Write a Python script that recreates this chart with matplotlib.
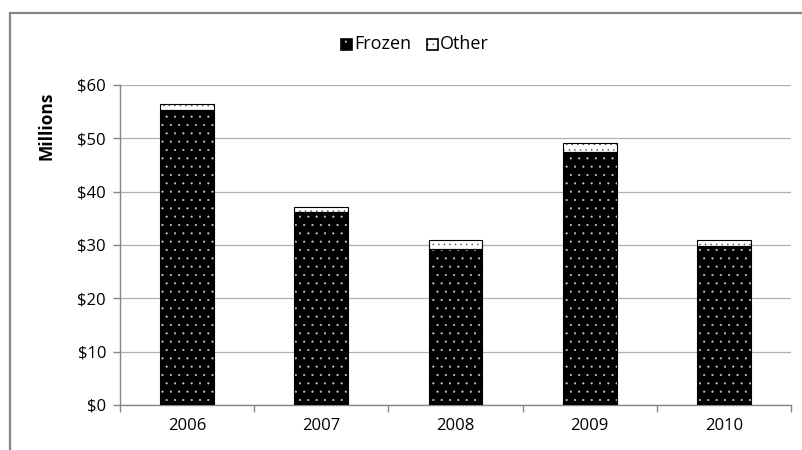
import numpy as np
import matplotlib
matplotlib.use("Agg")
import matplotlib.pyplot as plt
from matplotlib.patches import Rectangle
from matplotlib.ticker import FuncFormatter

plt.rcParams['font.family'] = ['Open Sans', 'DejaVu Sans']
plt.rcParams['hatch.linewidth'] = 0.3

years = ["2006", "2007", "2008", "2009", "2010"]
frozen = [55.3, 36.1, 29.2, 47.5, 29.9]
other = [1.1, 1.1, 1.7, 1.6, 1.0]

fig = plt.figure(figsize=(8.03, 4.5), dpi=100)
fig.patch.set_facecolor("white")

# outer chart border, only top and left sides are inside the canvas
fig.patches.append(Rectangle((10 / 803, -0.1), 1.2, 1 - 13 / 450 + 0.1,
                             transform=fig.transFigure, fill=False,
                             edgecolor="#868686", linewidth=1.6))

ax = fig.add_axes([120 / 803, 1 - 405 / 450, (791 - 120) / 803, (405 - 85) / 450])

x = np.arange(len(years))
w = 0.40
bottoms = np.array(frozen)

# frozen: black with white dots
ax.bar(x, frozen, width=w, color="black", edgecolor="#cccccc", hatch="..",
       linewidth=0, zorder=3)
ax.bar(x, frozen, width=w, fill=False, edgecolor="black", linewidth=0.8, zorder=4)
# other: white with black dots
ax.bar(x, other, width=w, bottom=bottoms, color="white", edgecolor="#444444",
       hatch="...", linewidth=0, zorder=3)
ax.bar(x, other, width=w, bottom=bottoms, fill=False, edgecolor="black",
       linewidth=0.8, zorder=4)

ax.set_xlim(-0.5, len(years) - 0.5)
ax.set_ylim(0, 60)
ax.set_yticks(np.arange(0, 61, 10))
ax.yaxis.set_major_formatter(FuncFormatter(lambda v, p: "$%d" % v))
ax.set_xticks(x)
ax.set_xticklabels(years)
ax.set_xticks(np.arange(-0.5, len(years), 1), minor=True)
ax.tick_params(axis="x", which="major", length=0, pad=9, labelsize=12)
ax.tick_params(axis="x", which="minor", length=5, color="#868686", width=1)
ax.tick_params(axis="y", length=5, color="#868686", width=1, labelsize=12, pad=5)

ax.grid(axis="y", color="#b0b0b0", linewidth=0.9, zorder=0)
for s in ["top", "right"]:
    ax.spines[s].set_visible(False)
for s in ["left", "bottom"]:
    ax.spines[s].set_color("#868686")
    ax.spines[s].set_linewidth(1)

fig.text(47 / 803, 1 - 126 / 450, "Millions", rotation=90, fontsize=12.5,
         fontweight="bold", ha="center", va="center")

# legend drawn as small squares with labels
leg_items = [("Frozen", "black", "#cccccc", ".."), ("Other", "white", "#444444", "...")]
lx = [341, 427]
for (lab, fc, hc, hatch), px in zip(leg_items, lx):
    fig.patches.append(Rectangle((px / 803, 1 - 50 / 450), 11 / 803, 11 / 450,
                                 transform=fig.transFigure, facecolor=fc,
                                 edgecolor=hc, hatch=hatch, linewidth=0))
    fig.patches.append(Rectangle((px / 803, 1 - 50 / 450), 11 / 803, 11 / 450,
                                 transform=fig.transFigure, fill=False,
                                 edgecolor="black", linewidth=1.2))
    fig.text((px + 13) / 803, 1 - 44 / 450, lab, fontsize=13, va="center", ha="left")

fig.savefig("out.png", dpi=100)
